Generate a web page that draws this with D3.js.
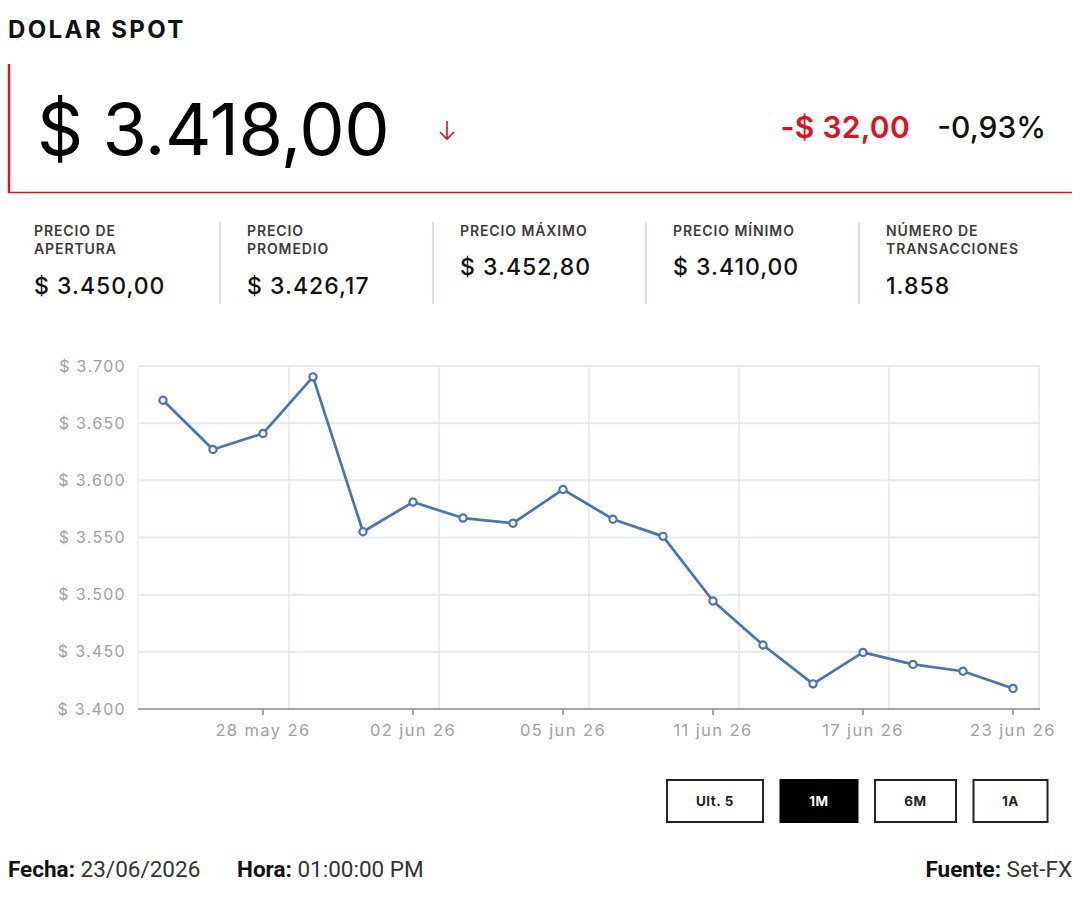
<!DOCTYPE html>
<html>
<head>
<meta charset="utf-8">
<script src="https://cdn.jsdelivr.net/npm/d3@7"></script>
<style>
body { margin: 0; background: #fff; }
svg text { font-family: Inter, "Open Sans", sans-serif; }
.pie text { font-family: "Liberation Sans Narrow", Roboto, sans-serif; }
</style>
</head>
<body>
<div id="chart"></div>
<script>
// datos
var fechas = ["26 may 26", "27 may 26", "28 may 26", "29 may 26", "01 jun 26", "02 jun 26",
	"03 jun 26", "04 jun 26", "05 jun 26", "09 jun 26", "10 jun 26", "11 jun 26",
	"12 jun 26", "16 jun 26", "17 jun 26", "18 jun 26", "19 jun 26", "23 jun 26"];
var precios = [3670, 3627, 3641, 3690.5, 3555, 3581, 3567, 3562.5, 3592, 3566, 3551, 3494.5,
	3456, 3422, 3449.5, 3439, 3433, 3418];
var etiquetasX = ["28 may 26", "02 jun 26", "05 jun 26", "11 jun 26", "17 jun 26", "23 jun 26"];
var ticksY = [3400, 3450, 3500, 3550, 3600, 3650, 3700];

var statLabels = [["PRECIO DE", "APERTURA"], ["PRECIO", "PROMEDIO"], ["PRECIO MÁXIMO"], ["PRECIO MÍNIMO"], ["NÚMERO DE", "TRANSACCIONES"]];
var statValues = ["$ 3.450,00", "$ 3.426,17", "$ 3.452,80", "$ 3.410,00", "1.858"];
var botones = ["Ult. 5", "1M", "6M", "1A"];
var botonActivo = "1M";

var precioActual = "$ 3.418,00";
var cambio = "-$ 32,00";
var cambioPct = "-0,93%";

var rojo = "#e2101e";

var svg = d3.select('#chart')
	.append('svg')
	.attr('width', 1080)
	.attr('height', 900);

// encabezado
svg.append('text')
	.attr('x', 8).attr('y', 38)
	.attr('font-size', 24).attr('font-weight', 700)
	.attr('letter-spacing', 2.4)
	.attr('fill', '#111')
	.text('DOLAR SPOT');

svg.append('line')
	.attr('x1', 9).attr('x2', 9).attr('y1', 64).attr('y2', 193)
	.attr('stroke', rojo).attr('stroke-width', 2.5);
svg.append('line')
	.attr('x1', 8).attr('x2', 1072).attr('y1', 192.5).attr('y2', 192.5)
	.attr('stroke', rojo).attr('stroke-width', 1.5);

svg.append('text')
	.attr('x', 37).attr('y', 155)
	.attr('font-size', 72).attr('font-weight', 400)
	.attr('letter-spacing', -0.5)
	.attr('fill', '#000')
	.text(precioActual);

// flecha
svg.append('path')
	.attr('d', 'M447,121 L447,139 M440,132 L447,139 L454,132')
	.attr('fill', 'none')
	.attr('stroke', rojo).attr('stroke-width', 1.6);

svg.append('text')
	.attr('x', 910).attr('y', 138)
	.attr('text-anchor', 'end')
	.attr('font-size', 30).attr('font-weight', 600)
	.attr('letter-spacing', 0.3)
	.attr('fill', rojo)
	.text(cambio);
svg.append('text')
	.attr('x', 1046).attr('y', 138)
	.attr('text-anchor', 'end')
	.attr('font-size', 30).attr('font-weight', 500)
	.attr('fill', '#111')
	.text(cambioPct);

// estadisticas
var stats = svg.append('g').attr('class', 'stats');
statLabels.forEach(function (lab, i) {
	var x0 = 34 + i * 213;
	var t = stats.append('text')
		.attr('x', x0).attr('y', 236)
		.attr('font-size', 14).attr('font-weight', 600)
		.attr('letter-spacing', 0.9)
		.attr('fill', '#3b3b3b');
	lab.forEach(function (l, j) {
		t.append('tspan').attr('x', x0).attr('dy', j === 0 ? 0 : 18).text(l);
	});
	stats.append('text')
		.attr('x', x0).attr('y', lab.length > 1 ? 294 : 275)
		.attr('font-size', 23).attr('font-weight', 500)
		.attr('letter-spacing', 1)
		.attr('fill', '#111')
		.text(statValues[i]);
	if (i < statLabels.length - 1) {
		stats.append('line')
			.attr('x1', x0 + 186).attr('x2', x0 + 186)
			.attr('y1', 222).attr('y2', 304)
			.attr('stroke', '#c8c8dc').attr('stroke-width', 1.2);
	}
});

// grafico
var margin = { top: 366, left: 138, right: 1038, bottom: 709 };

var xScale = d3.scaleBand()
	.domain(fechas)
	.range([margin.left, margin.right])
	.padding(0);
var bw = xScale.bandwidth();

var yScale = d3.scaleLinear()
	.domain([3400, 3700])
	.range([margin.bottom, margin.top]);

var fmt = d3.formatLocale({ decimal: ",", thousands: ".", grouping: [3], currency: ["$ ", ""] }).format("$,.0f");

var grid = svg.append('g').attr('class', 'grid');
grid.selectAll('.hgrid')
	.data(ticksY.slice(1))
	.enter().append('line')
	.attr('x1', margin.left).attr('x2', margin.right + 2)
	.attr('y1', function (d) { return yScale(d); })
	.attr('y2', function (d) { return yScale(d); })
	.attr('stroke', '#e4e9f1').attr('stroke-width', 2);
grid.selectAll('.vgrid')
	.data(etiquetasX)
	.enter().append('line')
	.attr('x1', function (d) { return xScale(d) + bw + 1; })
	.attr('x2', function (d) { return xScale(d) + bw + 1; })
	.attr('y1', margin.top).attr('y2', margin.bottom)
	.attr('stroke', '#e4e9f1').attr('stroke-width', 1.5);
grid.append('line')
	.attr('x1', margin.left).attr('x2', margin.left)
	.attr('y1', margin.top).attr('y2', margin.bottom)
	.attr('stroke', '#eef1f6').attr('stroke-width', 1.5);

// eje y (solo etiquetas)
var yAxis = d3.axisLeft(yScale)
	.tickValues(ticksY)
	.tickSize(0)
	.tickPadding(12)
	.tickFormat(fmt);
var gy = svg.append('g')
	.attr('class', 'y axis')
	.attr('transform', 'translate(' + margin.left + ',0)')
	.call(yAxis);
gy.select('.domain').remove();
gy.selectAll('text')
	.attr('font-family', 'Inter, sans-serif')
	.attr('font-size', 16)
	.attr('letter-spacing', 1.3)
	.attr('fill', '#a0a0a0');

// eje x
var xAxis = d3.axisBottom(xScale)
	.tickValues(etiquetasX)
	.tickSizeInner(6)
	.tickSizeOuter(0)
	.tickPadding(9);
var gx = svg.append('g')
	.attr('class', 'x axis')
	.attr('transform', 'translate(0,' + margin.bottom + ')')
	.call(xAxis);
gx.select('.domain')
	.attr('stroke', '#8a8a8a').attr('stroke-width', 1.5)
	.attr('d', 'M' + margin.left + ',0H' + (margin.right + 2));
gx.selectAll('.tick line').attr('stroke', '#8a8a8a').attr('stroke-width', 1.5);
gx.selectAll('text')
	.attr('font-family', 'Inter, sans-serif')
	.attr('font-size', 16.5)
	.attr('letter-spacing', 1.4)
	.attr('fill', '#a0a0a0');

// linea
var linea = d3.line()
	.x(function (d, i) { return xScale(fechas[i]) + bw / 2; })
	.y(function (d) { return yScale(d); });

svg.append('path')
	.datum(precios)
	.attr('d', linea)
	.attr('fill', 'none')
	.attr('stroke', '#4a72b6')
	.attr('stroke-width', 2.7)
	.attr('stroke-linejoin', 'round');

svg.selectAll('.punto')
	.data(precios)
	.enter().append('circle')
	.attr('class', 'punto')
	.attr('cx', function (d, i) { return xScale(fechas[i]) + bw / 2; })
	.attr('cy', function (d) { return yScale(d); })
	.attr('r', 3.6)
	.attr('fill', '#fff')
	.attr('stroke', '#4a72b6')
	.attr('stroke-width', 2.2);

// botones
var anchos = [96, 77, 81, 74];
var bx = 667;
var gb = svg.append('g').attr('class', 'botones');
botones.forEach(function (b, i) {
	var activo = b === botonActivo;
	gb.append('rect')
		.attr('x', bx).attr('y', 780)
		.attr('width', anchos[i]).attr('height', 42)
		.attr('fill', activo ? '#000' : '#fff')
		.attr('stroke', activo ? '#000' : '#222')
		.attr('stroke-width', 2);
	gb.append('text')
		.attr('x', bx + anchos[i] / 2).attr('y', 806)
		.attr('text-anchor', 'middle')
		.attr('font-size', 13.5).attr('font-weight', 700)
		.attr('letter-spacing', 0.6)
		.attr('fill', activo ? '#fff' : '#222')
		.text(b);
	bx += anchos[i] + 17.5;
});

// pie
var pie = svg.append('g').attr('class', 'pie');
var t1 = pie.append('text').attr('x', 8).attr('y', 877).attr('font-size', 22.5).attr('fill', '#111');
t1.append('tspan').attr('font-weight', 700).text('Fecha:');
t1.append('tspan').attr('fill', '#333').text(' 23/06/2026');
var t2 = pie.append('text').attr('x', 237).attr('y', 877).attr('font-size', 22.5).attr('fill', '#111');
t2.append('tspan').attr('font-weight', 700).text('Hora:');
t2.append('tspan').attr('fill', '#333').text(' 01:00:00 PM');
var t3 = pie.append('text').attr('x', 1072).attr('y', 877).attr('text-anchor', 'end').attr('font-size', 22.5).attr('fill', '#111');
t3.append('tspan').attr('font-weight', 700).text('Fuente:');
t3.append('tspan').attr('fill', '#333').text(' Set-FX');
</script>
</body>
</html>
